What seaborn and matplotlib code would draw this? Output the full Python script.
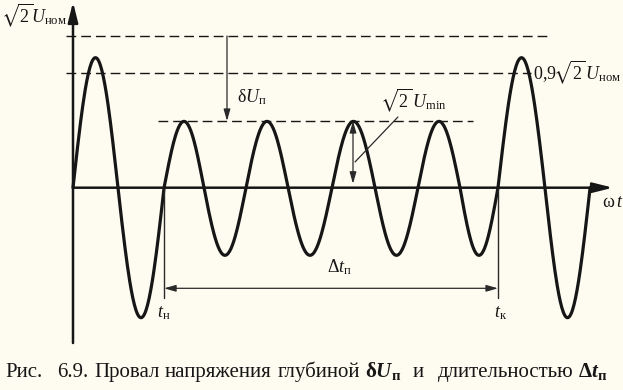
import numpy as np
import pandas as pd
import matplotlib
matplotlib.use("Agg")
import matplotlib.pyplot as plt
import seaborn as sns

# ---------------- data ----------------
# zero crossings of the voltage wave (ωt, rad-like units)
zero_crossings = [0.0, 3.10, 6.28, 9.03, 11.93, 14.83, 17.86, 20.83, 23.79, 26.69, 29.31, 32.55, 35.66]
# peak value of each half-wave (relative units)
half_wave_peaks = [1.0, -1.0, 0.51, -0.52, 0.51, -0.52, 0.51, -0.52, 0.51, -0.52, 1.0, -1.0]
# reference levels
level_names = ["nom", "p90", "min"]
level_values = [1.167, 0.882, 0.513]
# sag start / end
t_start = 6.28
t_end = 29.31

# caption, word by word, with the gap (px) that follows each word
caption_words = ["Рис.", "6.9.", "Провал", "напряжения", "глубиной",
                 r"$\mathbf{δ}\mathbfit{U}_{\mathbf{п}}$", "и", "длительностью",
                 r"$\mathbf{Δ}\mathbfit{t}_{\mathbf{п}}$"]
caption_gaps = [15, 6, 5, 6, 5, 11, 14, 5, 0]

# ---------------- style ----------------
sns.set_theme(style="white")
plt.rcParams["font.family"] = ["Liberation Serif", "DejaVu Serif"]
plt.rcParams["mathtext.fontset"] = "custom"
plt.rcParams["mathtext.rm"] = "Liberation Serif"
plt.rcParams["mathtext.it"] = "Liberation Serif:italic"
plt.rcParams["mathtext.bf"] = "Liberation Serif:bold"
plt.rcParams["mathtext.bfit"] = "Liberation Serif:bold:italic"
plt.rcParams["mathtext.fallback"] = "stix"

BG = "#fefbf0"
INK = "#161616"
THIN = "#2a2a2a"
W, H = 623, 390

fig = plt.figure(figsize=(W / 100, H / 100), dpi=100, facecolor=BG)
ax = fig.add_axes([0, 0, 1, 1])
ax.set_facecolor(BG)
ax.set_axis_off()
ax.set_xlim(-5.0345, 37.931)
ax.set_ylim(-1.5562, 1.4438)

# ---------------- wave built from half-wave data ----------------
rows = []
for i, pk in enumerate(half_wave_peaks):
    a, b = zero_crossings[i], zero_crossings[i + 1]
    xs = np.linspace(a, b, 60)
    ys = pk * np.sin(np.pi * (xs - a) / (b - a))
    for x, y in zip(xs, ys):
        rows.append((x, y))
wave = pd.DataFrame(rows, columns=["wt", "u"]).drop_duplicates("wt")
sns.lineplot(data=wave, x="wt", y="u", ax=ax, sort=False, estimator=None,
             color=INK, lw=2.3, legend=False)

lv = dict(zip(level_names, level_values))

# ---------------- axes with arrows ----------------
axis_arrow = dict(arrowstyle="-|>,head_length=1.2,head_width=0.3",
                  lw=1.8, color=INK, shrinkA=0, shrinkB=0, mutation_scale=10)
ax.annotate("", xy=(37.24, 0), xytext=(0, 0), arrowprops=axis_arrow)
ax.annotate("", xy=(0, 1.428), xytext=(0, -1.195), arrowprops=axis_arrow)

# ---------------- dashed reference levels ----------------
dash = dict(color=INK, lw=1.0, dashes=(7.0, 3.6))
ax.plot([-0.48, 32.76], [lv["nom"]] * 2, **dash)
ax.plot([-0.48, 31.6], [lv["p90"]] * 2, **dash)
ax.plot([5.86, 27.6], [lv["min"]] * 2, **dash)

# ---------------- annotations ----------------
thin_arrow = dict(arrowstyle="-|>,head_length=0.7,head_width=0.2", lw=0.9,
                  color=THIN, shrinkA=0, shrinkB=0, mutation_scale=10)
dbl_arrow = dict(arrowstyle="<|-|>,head_length=0.7,head_width=0.2", lw=0.9,
                 color=THIN, shrinkA=0, shrinkB=0, mutation_scale=10)

ax.annotate("", xy=(10.62, lv["min"]), xytext=(10.62, lv["nom"]), arrowprops=thin_arrow)
ax.annotate("", xy=(19.31, 0.03), xytext=(19.31, lv["min"]), arrowprops=dbl_arrow)
ax.plot([19.45, 22.41], [0.198, 0.544], color=THIN, lw=0.9)
ax.annotate("", xy=(t_start, -0.774), xytext=(t_end, -0.774), arrowprops=dbl_arrow)
ax.plot([t_start, t_start], [0, -0.85], color=THIN, lw=1.0)
ax.plot([t_end, t_end], [0, -0.85], color=THIN, lw=1.0)

FS = 13
tk = dict(color=INK, fontsize=FS, va="baseline", ha="left")
ax.text(-5.0, 1.27, r"$\sqrt{2}U_{\mathrm{ном}}$", **tk)
ax.text(31.75, 0.836, r"$0{,}9\!\sqrt{2}\,U_{\mathrm{ном}}$", **tk)
ax.text(11.31, 0.659, r"$\mathrm{δ}U_{\mathrm{п}}$", **tk)
ax.text(21.2, 0.621, r"$\sqrt{2}\,U_{\mathrm{min}}$", **tk)
ax.text(17.52, -0.65, r"$\mathrm{Δ}t_{\mathrm{п}}$", **tk)
ax.text(5.79, -0.995, r"$t_{\mathrm{н}}$", **tk)
ax.text(29.03, -0.995, r"$t_{\mathrm{к}}$", **tk)
ax.text(36.48, -0.148, r"$\mathrm{ω}\,t$", **tk)

# caption laid out word by word (measured widths + gaps)
renderer = fig.canvas.get_renderer()
x_px = 5.0
for word, gap in zip(caption_words, caption_gaps):
    t = fig.text(x_px / W, 1 - 377 / H, word, fontsize=15, color=INK,
                 ha="left", va="baseline")
    x_px += t.get_window_extent(renderer).width + gap

fig.savefig("out.png", dpi=100, facecolor=BG)
